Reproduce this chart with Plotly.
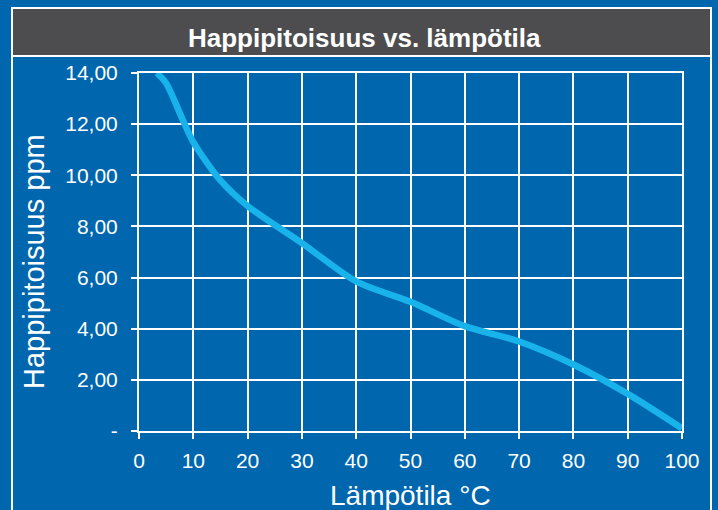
import plotly.graph_objects as go

# Dissolved oxygen vs. temperature
temperature = [3.3, 5, 8, 10, 15, 20, 30, 40, 50, 60, 70, 80, 90, 100]
oxygen_ppm = [14.0, 13.6, 12.2, 11.3, 9.8, 8.8, 7.35, 5.85, 5.05, 4.1, 3.5, 2.6, 1.45, 0.1]

y_ticks = [0, 2, 4, 6, 8, 10, 12, 14]
y_tick_labels = ["-", "2,00", "4,00", "6,00", "8,00", "10,00", "12,00", "14,00"]
x_ticks = [0, 10, 20, 30, 40, 50, 60, 70, 80, 90, 100]

W, H = 718, 510
L, R, T, B = 139, 682, 73, 431  # plot area in pixels

def px(x):
    return (x - L) / (R - L)

def py(y):
    return (B - y) / (B - T)

BG = "#0066ae"
FONT = "Liberation Sans, Arial, sans-serif"

fig = go.Figure()
fig.add_trace(go.Scatter(
    x=temperature, y=oxygen_ppm, mode="lines",
    line=dict(color="#17b3ea", width=6.5, shape="spline", smoothing=0.8),
    hoverinfo="skip", showlegend=False,
))

axis_common = dict(
    showgrid=True, gridcolor="white", gridwidth=2,
    showline=True, linecolor="white", linewidth=2, mirror=True,
    ticks="outside", ticklen=6, tickcolor="white", tickwidth=2,
    tickfont=dict(color="white", size=21, family=FONT),
    zeroline=False,
)

fig.update_layout(
    width=W, height=H,
    margin=dict(l=L, r=W - R, t=T, b=H - B),
    paper_bgcolor=BG, plot_bgcolor=BG,
    xaxis=dict(range=[0, 100], tickvals=x_ticks, ticklabelstandoff=4, **axis_common),
    yaxis=dict(range=[0, 14], tickvals=y_ticks, ticktext=y_tick_labels, ticklabelstandoff=9, **axis_common),
    shapes=[
        # title bar
        dict(type="rect", xref="paper", yref="paper",
             x0=px(12), x1=px(711), y0=py(56), y1=py(8),
             fillcolor="#4d4d4f", line=dict(color="white", width=2), layer="below"),
        # frame sides
        dict(type="line", xref="paper", yref="paper",
             x0=px(12), x1=px(12), y0=py(8), y1=py(512), line=dict(color="white", width=2)),
        dict(type="line", xref="paper", yref="paper",
             x0=px(711), x1=px(711), y0=py(8), y1=py(512), line=dict(color="white", width=2)),
    ],
    annotations=[
        dict(text="<b>Happipitoisuus vs. lämpötila</b>", xref="paper", yref="paper",
             x=px(364), y=py(38), xanchor="center", yanchor="middle", showarrow=False,
             font=dict(color="white", size=26, family="Liberation Sans Narrow, Arial Narrow, Liberation Sans, sans-serif")),
        dict(text="Lämpötila °C", xref="paper", yref="paper",
             x=px(410), y=py(495), xanchor="center", yanchor="middle", showarrow=False,
             font=dict(color="white", size=28, family=FONT)),
        dict(text="Happipitoisuus ppm", xref="paper", yref="paper", textangle=-90,
             x=px(34), y=py(262), xanchor="center", yanchor="middle", showarrow=False,
             font=dict(color="white", size=29, family=FONT)),
    ],
)

fig.write_html("out.html")
